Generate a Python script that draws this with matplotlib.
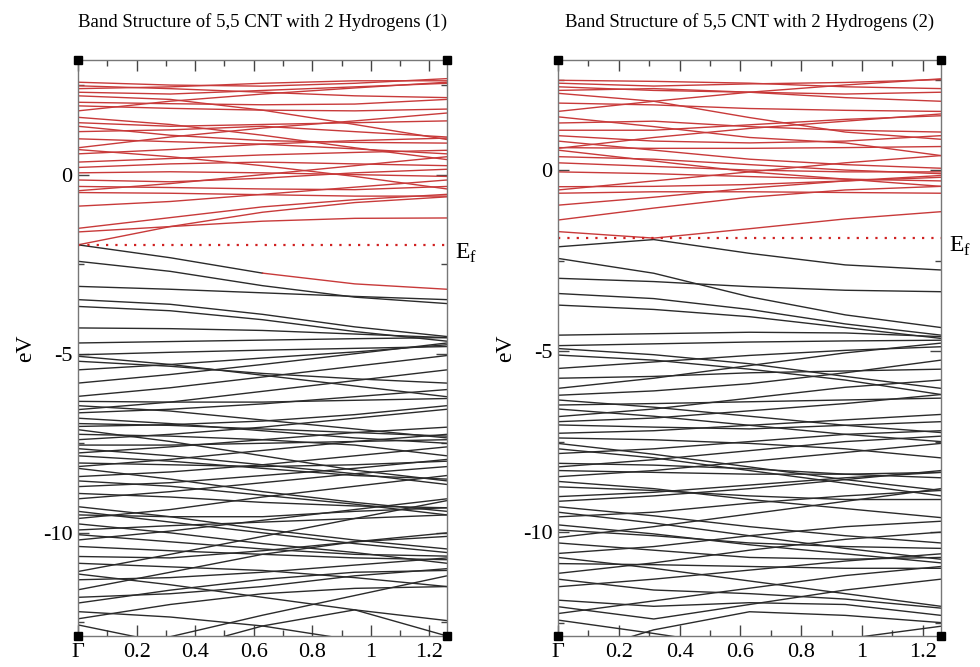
import matplotlib
matplotlib.use("Agg")
import matplotlib.pyplot as plt
import numpy as np
from matplotlib.ticker import MultipleLocator, FixedLocator

plt.rcParams['font.family'] = ['Liberation Serif', 'DejaVu Serif']
plt.rcParams['mathtext.fontset'] = 'custom'
plt.rcParams['mathtext.rm'] = 'Liberation Serif'

# ---------------- data ----------------
titles = ["Band Structure of 5,5 CNT with 2 Hydrogens (1)",
          "Band Structure of 5,5 CNT with 2 Hydrogens (2)"]
k_points = [0.0, 0.315, 0.63, 0.945, 1.26]
x_tick_values = [0, 0.2, 0.4, 0.6, 0.8, 1.0, 1.2]
x_tick_labels = ["\u0393", "0.2", "0.4", "0.6", "0.8", "1", "1.2"]
y_tick_values = [0, -5, -10]
y_tick_labels = ["0", "-5", "-10"]
fermi_levels = [-1.96, -1.88]
y_limits = [(-12.88, 3.2), (-12.87, 3.04)]

red_left = [
    [2.58, 2.50, 2.47, 2.55, 2.68],
    [2.40, 2.45, 2.55, 2.62, 2.62],
    [2.30, 2.25, 2.35, 2.45, 2.55],
    [2.48, 2.40, 2.30, 2.20, 2.15],
    [2.20, 2.10, 1.80, 1.40, 0.98],
    [1.78, 2.05, 2.25, 2.42, 2.58],
    [2.02, 1.98, 1.95, 1.97, 2.10],
    [1.92, 1.85, 1.80, 1.78, 1.83],
    [1.60, 1.40, 1.10, 0.75, 0.42],
    [1.35, 1.10, 0.95, 0.90, 0.88],
    [1.20, 1.25, 1.35, 1.20, 1.05],
    [0.75, 1.05, 1.30, 1.50, 1.72],
    [0.70, 0.50, 0.25, -0.05, -0.40],
    [1.45, 1.35, 1.40, 1.45, 1.50],
    [0.35, 0.45, 0.55, 0.62, 0.68],
    [0.20, 0.30, 0.35, 0.30, 0.25],
    [0.05, 0.08, 0.05, 0.00, -0.05],
    [-0.15, -0.20, -0.10, 0.05, 0.15],
    [-0.45, -0.25, 0.00, 0.25, 0.50],
    [-0.50, -0.52, -0.56, -0.60, -0.60],
    [-0.33, -0.36, -0.40, -0.42, -0.33],
    [-0.88, -0.75, -0.55, -0.35, -0.15],
    [-1.50, -1.20, -0.90, -0.70, -0.55],
    [-1.96, -1.45, -1.05, -0.78, -0.62],
    [-1.60, -1.45, -1.30, -1.22, -1.21],
    [1.00, 0.92, 0.85, 0.72, 0.58],
    [0.58, 0.70, 0.85, 0.95, 1.02],
]

black_left = [
    [-2.42, -2.70, -3.10, -3.42, -3.60],
    [-3.12, -3.20, -3.30, -3.40, -3.49],
    [-3.49, -3.62, -3.90, -4.25, -4.52],
    [-3.68, -3.80, -4.05, -4.38, -4.65],
    [-4.28, -4.30, -4.35, -4.45, -4.55],
    [-4.70, -4.66, -4.62, -4.58, -4.55],
    [-5.03, -4.96, -4.90, -4.85, -4.80],
    [-5.07, -5.30, -5.60, -5.90, -6.20],
    [-5.21, -5.35, -5.55, -5.70, -5.82],
    [-5.45, -5.30, -5.12, -4.95, -4.75],
    [-5.82, -5.58, -5.30, -5.00, -4.70],
    [-6.19, -5.95, -5.65, -5.35, -5.05],
    [-6.33, -6.35, -6.35, -6.30, -6.25],
    [-6.45, -6.60, -6.85, -7.10, -7.35],
    [-6.56, -6.35, -6.05, -5.75, -5.45],
    [-6.65, -6.55, -6.40, -6.20, -6.00],
    [-6.80, -6.95, -7.15, -7.35, -7.50],
    [-7.03, -6.98, -6.88, -6.70, -6.45],
    [-6.95, -7.00, -7.10, -7.20, -7.30],
    [-7.12, -7.45, -7.85, -8.25, -8.55],
    [-7.25, -7.30, -7.40, -7.55, -7.85],
    [-7.40, -7.25, -7.05, -6.80, -6.55],
    [-7.55, -7.55, -7.50, -7.45, -7.40],
    [-7.65, -7.85, -8.10, -8.35, -8.65],
    [-7.77, -7.60, -7.40, -7.20, -7.05],
    [-7.85, -8.00, -8.20, -8.40, -8.50],
    [-8.05, -8.10, -8.15, -8.10, -8.00],
    [-8.15, -7.95, -7.70, -7.45, -7.25],
    [-8.20, -8.50, -8.85, -9.15, -9.40],
    [-8.43, -8.30, -8.10, -7.85, -7.60],
    [-8.55, -8.70, -8.95, -9.20, -9.50],
    [-8.71, -8.60, -8.40, -8.20, -7.95],
    [-8.90, -9.00, -9.15, -9.25, -9.30],
    [-9.05, -8.85, -8.60, -8.35, -8.15],
    [-9.27, -9.55, -9.90, -10.20, -10.45],
    [-9.40, -9.70, -10.00, -10.30, -10.55],
    [-9.50, -9.55, -9.55, -9.40, -9.30],
    [-9.60, -9.35, -9.00, -8.70, -8.40],
    [-9.75, -10.00, -10.30, -10.55, -10.85],
    [-9.92, -9.80, -9.70, -9.60, -9.50],
    [-10.05, -10.25, -10.45, -10.60, -10.65],
    [-10.20, -9.95, -9.65, -9.35, -9.05],
    [-10.38, -10.50, -10.60, -10.70, -10.75],
    [-10.66, -10.70, -10.50, -10.25, -10.00],
    [-10.85, -10.95, -11.05, -11.25, -11.50],
    [-11.08, -10.60, -10.10, -9.60, -9.10],
    [-11.15, -11.45, -11.80, -12.15, -12.45],
    [-11.31, -11.25, -11.10, -10.90, -10.70],
    [-11.59, -11.10, -10.60, -10.25, -10.10],
    [-11.80, -11.70, -11.50, -11.20, -11.00],
    [-11.96, -11.60, -11.30, -11.10, -11.05],
    [-12.20, -12.35, -12.60, -13.00, -13.50],
    [-12.40, -12.00, -11.70, -11.55, -11.50],
    [-12.57, -13.10, -13.60, -14.00, -14.00],
    [-14.00, -12.90, -12.30, -11.75, -11.20],
    [-13.80, -13.30, -12.60, -12.15, -12.88],
]

# band that changes colour along k (black first, red afterwards)
mixed_left = [-1.96, -2.32, -2.75, -3.05, -3.20]
mixed_left_switch = 2

red_right = [
    [2.40, 2.32, 2.38, 2.42, 2.50],
    [2.48, 2.45, 2.40, 2.30, 2.25],
    [2.30, 2.20, 2.15, 2.10, 2.15],
    [1.62, 1.90, 2.15, 2.35, 2.52],
    [2.12, 1.90, 1.45, 1.05, 0.85],
    [2.20, 2.25, 2.15, 2.00, 1.90],
    [1.85, 1.80, 1.70, 1.65, 1.62],
    [1.47, 1.20, 0.90, 0.75, 0.40],
    [1.30, 1.35, 1.20, 1.10, 1.05],
    [1.10, 1.10, 1.25, 1.40, 1.50],
    [0.60, 0.90, 1.15, 1.35, 1.55],
    [0.62, 0.60, 0.60, 0.62, 0.65],
    [0.80, 0.55, 0.30, 0.15, 0.05],
    [0.55, 0.25, -0.05, -0.25, -0.45],
    [0.37, 0.30, 0.15, 0.00, -0.10],
    [0.20, 0.10, 0.00, -0.05, -0.05],
    [-0.05, -0.10, -0.18, -0.25, -0.30],
    [-0.55, -0.30, -0.05, 0.20, 0.40],
    [-0.64, -0.60, -0.60, -0.62, -0.64],
    [-0.46, -0.45, -0.40, -0.30, -0.15],
    [-0.97, -0.75, -0.50, -0.30, -0.20],
    [-1.38, -1.05, -0.75, -0.55, -0.45],
    [-1.70, -1.88, -1.62, -1.35, -1.15],
    [0.95, 0.80, 0.75, 0.80, 0.95],
]

black_right = [
    [-2.12, -1.92, -2.30, -2.62, -2.76],
    [-2.44, -2.85, -3.50, -4.00, -4.35],
    [-2.99, -3.08, -3.22, -3.32, -3.36],
    [-3.41, -3.55, -3.85, -4.25, -4.56],
    [-3.73, -3.85, -4.05, -4.35, -4.65],
    [-4.56, -4.52, -4.48, -4.50, -4.60],
    [-4.85, -4.80, -4.75, -4.72, -4.70],
    [-4.93, -5.10, -5.35, -5.70, -6.03],
    [-5.11, -5.25, -5.50, -5.80, -6.20],
    [-5.48, -5.30, -5.12, -4.98, -4.88],
    [-6.03, -5.75, -5.40, -5.05, -4.78],
    [-5.75, -5.70, -5.60, -5.55, -5.50],
    [-6.22, -6.10, -5.90, -5.60, -5.25],
    [-6.35, -6.55, -6.80, -7.05, -7.25],
    [-6.49, -6.45, -6.40, -6.35, -6.30],
    [-6.60, -6.80, -7.05, -7.30, -7.50],
    [-6.81, -6.60, -6.30, -6.00, -5.80],
    [-6.95, -6.85, -6.65, -6.45, -6.20],
    [-7.04, -7.10, -7.15, -7.05, -6.95],
    [-7.27, -7.20, -7.05, -6.90, -6.75],
    [-7.40, -7.45, -7.55, -7.70, -7.95],
    [-7.55, -7.85, -8.20, -8.55, -8.85],
    [-7.70, -7.95, -8.30, -8.65, -9.00],
    [-7.83, -7.70, -7.50, -7.30, -7.20],
    [-8.10, -8.15, -8.25, -8.40, -8.50],
    [-8.20, -8.00, -7.75, -7.50, -7.35],
    [-8.30, -8.35, -8.40, -8.40, -8.35],
    [-8.47, -8.30, -8.05, -7.80, -7.55],
    [-8.60, -8.80, -9.10, -9.35, -9.60],
    [-8.75, -8.85, -9.00, -9.10, -9.10],
    [-9.02, -8.90, -8.70, -8.50, -8.35],
    [-9.15, -9.00, -8.80, -8.55, -8.30],
    [-9.30, -9.55, -9.85, -10.10, -10.30],
    [-9.45, -9.75, -10.10, -10.45, -10.75],
    [-9.58, -9.45, -9.20, -9.00, -8.85],
    [-9.80, -10.05, -10.35, -10.60, -10.85],
    [-9.94, -10.10, -10.30, -10.40, -10.45],
    [-10.15, -9.85, -9.50, -9.15, -8.80],
    [-10.30, -10.50, -10.70, -10.75, -10.70],
    [-10.59, -10.40, -10.10, -9.85, -9.70],
    [-10.70, -11.00, -11.35, -11.70, -12.05],
    [-10.87, -10.90, -10.95, -11.00, -11.00],
    [-11.14, -10.85, -10.50, -10.20, -10.00],
    [-11.30, -11.60, -11.70, -11.85, -12.10],
    [-11.51, -11.30, -11.05, -10.80, -10.60],
    [-11.88, -12.05, -11.95, -12.00, -12.30],
    [-12.06, -12.40, -12.00, -11.60, -11.30],
    [-12.25, -11.90, -11.55, -11.20, -10.95],
    [-12.43, -12.80, -13.20, -13.50, -13.50],
    [-13.50, -12.70, -12.20, -12.30, -12.50],
    [-13.50, -13.50, -13.30, -12.95, -12.60],
]

# ---------------- style ----------------
RED = '#c83a3a'
BLACK = '#2b2b2b'
LW = 1.0

fig = plt.figure(figsize=(9.8, 6.67), dpi=100)
W, H = 980, 667
axes_px = [(78, 60, 447, 636), (558, 60, 941, 636)]
axs = []
for (x0, y0, x1, y1) in axes_px:
    axs.append(fig.add_axes([x0 / W, 1 - y1 / H, (x1 - x0) / W, (y1 - y0) / H]))

panels = [
    (red_left, black_left, mixed_left),
    (red_right, black_right, None),
]

for i, ax in enumerate(axs):
    reds, blacks, mixed = panels[i]
    for band in blacks:
        ax.plot(k_points, band, color=BLACK, lw=LW, solid_capstyle='butt')
    for band in reds:
        ax.plot(k_points, band, color=RED, lw=LW, solid_capstyle='butt')
    if mixed is not None:
        s = mixed_left_switch
        ax.plot(k_points[:s + 1], mixed[:s + 1], color=BLACK, lw=LW)
        ax.plot(k_points[s:], mixed[s:], color=RED, lw=LW)
    ax.plot([k_points[0], k_points[-1]], [fermi_levels[i]] * 2, color='#d02020',
            lw=1.6, ls=(0, (1, 3.2)))

    ax.set_xlim(k_points[0], k_points[-1])
    ax.set_ylim(*y_limits[i])
    ax.xaxis.set_major_locator(FixedLocator(x_tick_values))
    ax.set_xticklabels(x_tick_labels)
    ax.xaxis.set_minor_locator(MultipleLocator(0.1))
    ax.yaxis.set_major_locator(FixedLocator(y_tick_values))
    ax.set_yticklabels(y_tick_labels)
    ax.yaxis.set_minor_locator(MultipleLocator(2.5))
    ax.tick_params(which='both', direction='in', top=True, right=True,
                   labelsize=16, color='#444444', width=1.0)
    ax.tick_params(which='major', length=8)
    ax.tick_params(axis='x', which='major', pad=5)
    ax.tick_params(axis='y', which='major', pad=4)
    ax.tick_params(which='minor', length=4)
    for sp in ax.spines.values():
        sp.set_color('#777777')
        sp.set_linewidth(1.0)
    ax.set_ylabel('eV', fontsize=17, labelpad=5)

    # corner markers
    ax.plot([0, 1, 0, 1], [0, 0, 1, 1], ls='none', marker='s', ms=5.5,
            color='black', transform=ax.transAxes, clip_on=False, zorder=5)

    # Fermi level label
    ax.annotate(r'E$_{\mathrm{f}}$', xy=(1.0, fermi_levels[i]),
                xycoords=('axes fraction', 'data'), xytext=(6, -6),
                textcoords='offset points', fontsize=17, va='center', ha='left')

    cx = (axes_px[i][0] + axes_px[i][2]) / 2 / W
    fig.text(cx, 1 - 22 / H, titles[i], ha='center', va='center', fontsize=13.5)

fig.savefig('out.png', dpi=100)
